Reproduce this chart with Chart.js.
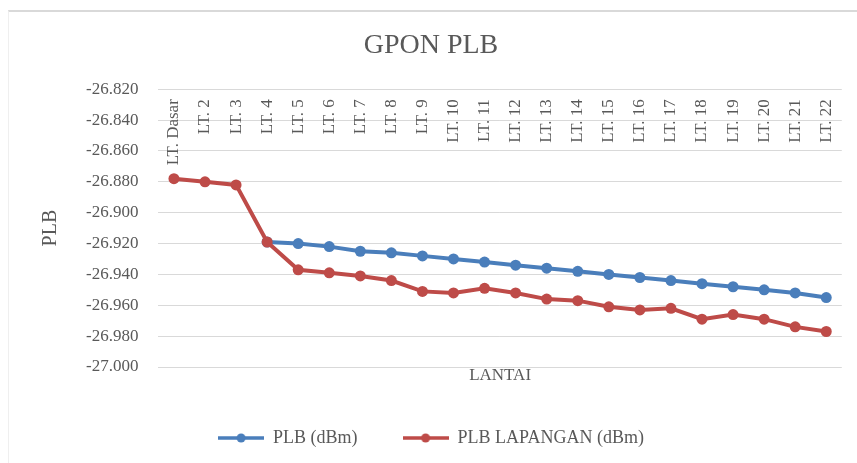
<!DOCTYPE html>
<html>
<head>
<meta charset="utf-8">
<script src="https://cdn.jsdelivr.net/npm/chart.js@4.4.1/dist/chart.umd.min.js"></script>
<style>
  html, body { margin: 0; padding: 0; background: #fff; }
  #wrap { position: relative; width: 857px; height: 463px; }
  #frame {
    position: absolute; left: 8px; top: 10px; right: 0; bottom: 0;
    border-top: 2px solid #d9d9d9; border-left: 1px solid #efefef;
    pointer-events: none;
  }
</style>
</head>
<body>
<div id="wrap">
  <canvas id="chartPlb" width="857" height="463"></canvas>
  <div id="frame"></div>
</div>
<script>
// Lantai (kategori)
const LANTAI = [
  'LT. Dasar','LT. 2','LT. 3','LT. 4','LT. 5','LT. 6','LT. 7','LT. 8','LT. 9','LT. 10','LT. 11',
  'LT. 12','LT. 13','LT. 14','LT. 15','LT. 16','LT. 17','LT. 18','LT. 19','LT. 20','LT. 21','LT. 22',
];

// PLB (dBm) - garis biru, mulai dari LT. 4
const PLB = [
  null, null, null, -26.919, -26.920, -26.922, -26.925, -26.926, -26.928, -26.930, -26.932,
  -26.934, -26.936, -26.938, -26.940, -26.942, -26.944, -26.946, -26.948, -26.950, -26.952, -26.955,
];

// PLB LAPANGAN (dBm) - garis merah
const PLB_LAPANGAN = [
  -26.878, -26.880, -26.882, -26.919, -26.937, -26.939, -26.941, -26.944, -26.951, -26.952, -26.949,
  -26.952, -26.956, -26.957, -26.961, -26.963, -26.962, -26.969, -26.966, -26.969, -26.974, -26.977,
];

const Y_MIN  = -27.0;
const Y_MAX  = -26.82;
const Y_STEP = 0.02;

const SERIF     = "'Liberation Serif', 'Times New Roman', serif";
const TEXT_GREY = '#595959';
const GRID_GREY = '#d9d9d9';
const BLUE      = '#4A7EBB';
const RED       = '#BE4B48';

Chart.defaults.font.family = SERIF;
Chart.defaults.color       = TEXT_GREY;

/** ikon legenda: garis dengan titik di tengah */
function legendIcon(color) {
  const c = document.createElement('canvas');
  c.width = 46; c.height = 12;
  const g = c.getContext('2d');
  g.strokeStyle = color; g.lineWidth = 3.5;
  g.beginPath(); g.moveTo(0, 6); g.lineTo(46, 6); g.stroke();
  g.fillStyle = color;
  g.beginPath(); g.arc(23, 6, 4.5, 0, Math.PI * 2); g.fill();
  return c;
}

new Chart(document.getElementById('chartPlb'), {
  type: 'line',
  data: {
    labels: LANTAI,
    datasets: [
      {
        label: 'PLB (dBm)', data: PLB, order: 1,
        borderColor: BLUE, backgroundColor: BLUE, borderWidth: 4,
        pointRadius: 5.5, pointBorderWidth: 0, pointBackgroundColor: BLUE, tension: 0,
      },
      {
        label: 'PLB LAPANGAN (dBm)', data: PLB_LAPANGAN, order: 0,
        borderColor: RED, backgroundColor: RED, borderWidth: 4,
        pointRadius: 5.5, pointBorderWidth: 0, pointBackgroundColor: RED, tension: 0,
      },
    ],
  },
  options: {
    responsive: false, animation: false,
    layout: { padding: { top: 12, left: 20, right: 15, bottom: 6 } },
    plugins: {
      title: {
        display: true, text: 'GPON PLB', color: TEXT_GREY,
        font: { family: SERIF, size: 28, weight: 'normal' },
        padding: { top: 17, bottom: 26.6 },
      },
      legend: {
        position: 'bottom',
        labels: {
          usePointStyle: true, pointStyleWidth: 46, padding: 45,
          color: TEXT_GREY, font: { family: SERIF, size: 18 },
          generateLabels: chart => chart.data.datasets.map((ds, i) => ({
            text: ds.label, fillStyle: ds.borderColor, strokeStyle: ds.borderColor,
            lineWidth: 0, pointStyle: legendIcon(ds.borderColor),
            hidden: false, datasetIndex: i, fontColor: TEXT_GREY,
          })),
        },
      },
      tooltip: { enabled: false },
    },
    scales: {
      x: {
        type: 'category', offset: true,
        position: { y: Y_MAX },
        grid: { display: false, drawTicks: false },
        border: { display: false },
        ticks: {
          autoSkip: false, minRotation: 90, maxRotation: 90, padding: 10,
          color: TEXT_GREY, font: { family: SERIF, size: 17 },
        },
      },
      x2: {
        type: 'category', position: 'bottom', offset: true,
        grid: { display: false, drawTicks: false },
        border: { display: false },
        ticks: { display: false },
        title: {
          display: true, text: 'LANTAI', color: TEXT_GREY,
          font: { family: SERIF, size: 17, lineHeight: 1 },
          padding: { top: 0, bottom: 0 },
        },
      },
      y: {
        min: Y_MIN, max: Y_MAX,
        grid: { color: GRID_GREY, lineWidth: 1, drawTicks: false },
        border: { display: false },
        ticks: {
          stepSize: Y_STEP, padding: 20, color: TEXT_GREY,
          font: { family: SERIF, size: 17 },
          callback: v => v.toFixed(3),
        },
        title: {
          display: true, text: 'PLB', color: TEXT_GREY,
          font: { family: SERIF, size: 20, lineHeight: 1 },
          padding: { top: 21, bottom: 5 },
        },
      },
    },
  },
});
</script>
</body>
</html>
